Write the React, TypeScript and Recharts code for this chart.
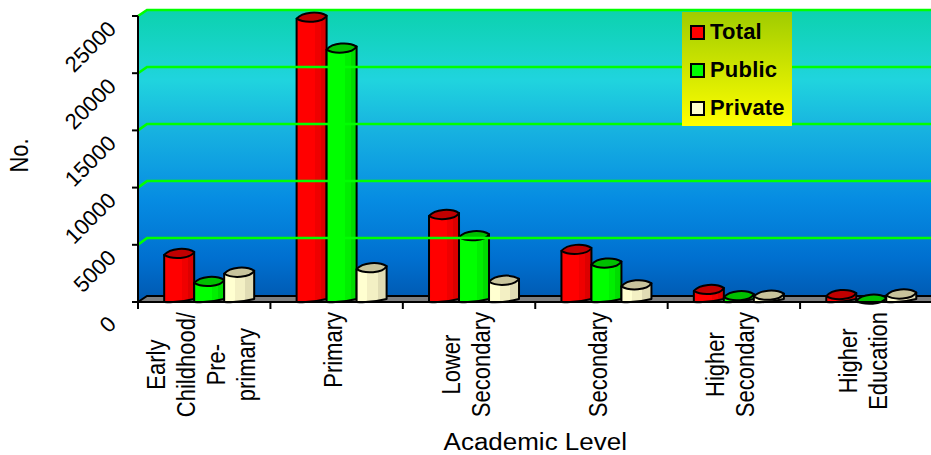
import React from "react";
import {
  BarChart,
  Bar,
  XAxis,
  YAxis,
  Legend,
  ReferenceArea,
  ReferenceLine,
} from "recharts";

const levels = [
  "Early|Childhood/|Pre-|primary",
  "Primary",
  "Lower|Secondary",
  "Secondary",
  "Higher|Secondary",
  "Higher|Education",
];
const totalCounts = [4250, 24900, 7650, 4600, 1100, 650];
const publicCounts = [1800, 22200, 5800, 3400, 550, 250];
const privateCounts = [2600, 3000, 1900, 1500, 600, 700];
const yTicks = [0, 5000, 10000, 15000, 20000, 25000];

const chartData = levels.map((level, i) => ({
  level,
  Total: totalCounts[i],
  Public: publicCounts[i],
  Private: privateCounts[i],
}));

const FONT = '"Liberation Sans", Arial, sans-serif';
const GREEN_LINE = "#00ff00";
// how far the back wall sits behind the axes
const DEPTH_X = 9;
const DEPTH_Y = 6;
const BAR_SHIFT = 5;
const CAP_RY = 5.5;
// axis text in this chart is a little wider than it is tall
const TEXT_STRETCH = 1.13;
const TICK_FONT_SIZE = 22;

const measureCtx = document.createElement("canvas").getContext("2d");

function textLength(text: string) {
  if (!measureCtx) return text.length * 11;
  measureCtx.font = `${TICK_FONT_SIZE}px "Liberation Sans"`;
  return measureCtx.measureText(text).width;
}

function Wall({ x, y, width, height }: any) {
  const bottom = y + height;
  const right = x + width;
  return (
    <g>
      <path
        d={`M${x},${bottom} L${x},${y} L${x + DEPTH_X},${y - DEPTH_Y} L${right},${y - DEPTH_Y} L${right},${bottom} Z`}
        fill="url(#wallFill)"
      />
      <path
        d={`M${x},${bottom} L${x + DEPTH_X},${bottom - DEPTH_Y} L${right},${bottom - DEPTH_Y} L${right},${bottom} Z`}
        fill="#808080"
        stroke="#000"
        strokeWidth={2}
      />
    </g>
  );
}

function GridLine({ x1, y1, x2 }: any) {
  // snapped to whole pixels so the line stays solid
  const backY = Math.round(y1 - DEPTH_Y - 0.5);
  return (
    <path
      d={`M${x1},${y1} L${x1 + DEPTH_X},${backY} L${x2},${backY}`}
      fill="none"
      stroke={GREEN_LINE}
      strokeWidth={2.6}
    />
  );
}

function Cylinder({ x, y, width, height, name }: any) {
  const key = String(name);
  const x0 = x + BAR_SHIFT;
  const x1 = x0 + width;
  const base = y + height;
  const mid = x0 + width / 2;
  const tilt = 1.5;
  const capY = Math.min(y, base - 2);
  const body = `M${x0},${capY + tilt} L${x0},${base} Q${mid},${base + 1} ${x1},${base - 3} L${x1},${capY - tilt} Z`;
  const cap =
    `M${x0},${capY + tilt} C${x0 + 6},${capY - CAP_RY} ${x1 - 8},${capY - CAP_RY - 1} ${x1},${capY - tilt}` +
    ` C${x1 - 4},${capY + CAP_RY} ${x0 + 8},${capY + CAP_RY + 1} ${x0},${capY + tilt} Z`;
  return (
    <g stroke="#000" strokeWidth={2} strokeLinejoin="round">
      <path d={body} fill={`url(#side${key})`} />
      <path d={cap} fill={`url(#cap${key})`} />
    </g>
  );
}

function LevelTick({ x, y, payload }: any) {
  const lines: string[] = String(payload.value).split("|");
  const band = payload.offset ?? 66;
  const spacing = 30;
  const startX = x + 5.5 - ((lines.length - 1) * spacing) / 2;
  // lines are centred on each other, the block hangs from just under the axis
  const longest = Math.max(...lines.map(textLength));
  const centreY = y + 2 + longest / 2;
  return (
    <g>
      <line x1={x - band} y1={y - 8} x2={x - band} y2={y - 1} stroke="#000" strokeWidth={2} />
      {lines.map((line, i) => (
        <text
          key={line}
          transform={`translate(${startX + i * spacing} ${centreY}) scale(${TEXT_STRETCH} 1) rotate(-90)`}
          textAnchor="middle"
          fontFamily={FONT}
          fontSize={TICK_FONT_SIZE}
          fill="#000"
        >
          {line}
        </text>
      ))}
    </g>
  );
}

function CountTick({ x, y, payload }: any) {
  const tx = x - 18;
  const ty = payload.value === 0 ? y + 18 : y + 9;
  return (
    <text
      x={tx}
      y={ty}
      transform={`rotate(-45 ${tx} ${ty})`}
      textAnchor="end"
      dominantBaseline="central"
      fontFamily={FONT}
      fontSize={TICK_FONT_SIZE}
      fill="#000"
    >
      {payload.value}
    </text>
  );
}

function LevelAxisTitle({ viewBox }: any) {
  const cx = viewBox.x + viewBox.width / 2;
  return (
    <text
      transform={`translate(${cx} 450) scale(${TEXT_STRETCH} 1)`}
      textAnchor="middle"
      fontFamily={FONT}
      fontSize={23}
      fill="#000"
    >
      Academic Level
    </text>
  );
}

function CountAxisTitle() {
  return (
    <text
      transform={`translate(28 155.5) scale(${TEXT_STRETCH} 1) rotate(-90)`}
      textAnchor="middle"
      fontFamily={FONT}
      fontSize={22}
      fill="#000"
    >
      No.
    </text>
  );
}

function LegendBox({ payload }: any) {
  return (
    <div
      style={{
        width: 110,
        height: 114,
        background: "linear-gradient(#a0cc00, #ffff00)",
        boxSizing: "border-box",
        paddingTop: 1,
      }}
    >
      {(payload || []).map((item: any) => (
        <div
          key={item.value}
          style={{ display: "flex", alignItems: "center", height: 38, paddingLeft: 8 }}
        >
          <span
            style={{
              width: 11,
              height: 11,
              border: "2px solid #000",
              background: item.color,
              marginRight: 5,
              flex: "none",
            }}
          />
          <span
            style={{
              fontFamily: FONT,
              fontWeight: 700,
              fontSize: 22,
              letterSpacing: 0.2,
              color: "#000",
            }}
          >
            {item.value}
          </span>
        </div>
      ))}
    </div>
  );
}

export default function App() {
  return (
    <div style={{ position: "absolute", left: 0, top: 0 }}>
      <BarChart
        width={931}
        height={455}
        data={chartData}
        margin={{ top: 16, right: -1.5, bottom: 0, left: 0 }}
        barCategoryGap="16%"
        barGap={0}
      >
        <defs>
          <linearGradient id="wallFill" x1="0" y1="0" x2="0" y2="1">
            <stop offset="0%" stopColor="#0cd2ae" />
            <stop offset="24%" stopColor="#20d4de" />
            <stop offset="40%" stopColor="#18b4e0" />
            <stop offset="65%" stopColor="#068ce2" />
            <stop offset="85%" stopColor="#0070d0" />
            <stop offset="100%" stopColor="#0058b0" />
          </linearGradient>
          <linearGradient id="sideTotal" x1="0" y1="0" x2="1" y2="0">
            <stop offset="60%" stopColor="#ff0000" />
            <stop offset="60%" stopColor="#ef0000" />
            <stop offset="80%" stopColor="#ef0000" />
            <stop offset="80%" stopColor="#dc0000" />
          </linearGradient>
          <linearGradient id="sidePublic" x1="0" y1="0" x2="1" y2="0">
            <stop offset="60%" stopColor="#00ff00" />
            <stop offset="60%" stopColor="#00ef00" />
            <stop offset="80%" stopColor="#00ef00" />
            <stop offset="80%" stopColor="#00dc00" />
          </linearGradient>
          <linearGradient id="sidePrivate" x1="0" y1="0" x2="1" y2="0">
            <stop offset="35%" stopColor="#ffffd0" />
            <stop offset="35%" stopColor="#f3f0c4" />
            <stop offset="70%" stopColor="#f3f0c4" />
            <stop offset="70%" stopColor="#e0dcb4" />
          </linearGradient>
          <linearGradient id="capTotal">
            <stop offset="0%" stopColor="#c00000" />
          </linearGradient>
          <linearGradient id="capPublic">
            <stop offset="0%" stopColor="#00c000" />
          </linearGradient>
          <linearGradient id="capPrivate">
            <stop offset="0%" stopColor="#c8c49c" />
          </linearGradient>
        </defs>
        <ReferenceArea y1={0} y2={25000} shape={<Wall />} />
        {yTicks.slice(1).map((tick) => (
          <ReferenceLine key={tick} y={tick} shape={<GridLine />} />
        ))}
        <XAxis
          dataKey="level"
          height={153}
          interval={0}
          tick={<LevelTick />}
          tickLine={false}
          axisLine={{ stroke: "#000", strokeWidth: 2 }}
          label={<LevelAxisTitle />}
        />
        <YAxis
          width={138}
          domain={[0, 25000]}
          ticks={yTicks}
          tick={<CountTick />}
          tickLine={{ stroke: "#000", strokeWidth: 2 }}
          axisLine={{ stroke: "#000", strokeWidth: 2 }}
          label={<CountAxisTitle />}
        />
        <Legend
          content={<LegendBox />}
          itemSorter={null}
          layout="vertical"
          wrapperStyle={{ left: 682, top: 12, width: 0, height: 0, bottom: "auto" }}
        />
        <Bar dataKey="Total" fill="#ff0000" shape={<Cylinder name="Total" />} isAnimationActive={false} />
        <Bar dataKey="Public" fill="#00ff00" shape={<Cylinder name="Public" />} isAnimationActive={false} />
        <Bar dataKey="Private" fill="#ffffcc" shape={<Cylinder name="Private" />} isAnimationActive={false} />
      </BarChart>
    </div>
  );
}
